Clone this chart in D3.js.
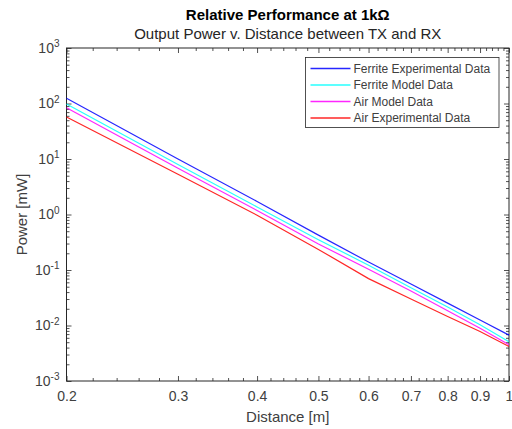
<!DOCTYPE html>
<html>
<head>
<meta charset="utf-8">
<script src="https://cdn.jsdelivr.net/npm/d3@7"></script>
<style>
  html, body { margin: 0; padding: 0; background: #fff; }
  svg { display: block; font-family: "Liberation Sans", Arial, Helvetica, sans-serif; }
</style>
</head>
<body>
<svg id="chart" width="512" height="429"></svg>
<script>
// Distances [m] at which power was measured / modelled
const distances = [0.2, 0.3, 0.4, 0.5, 0.6, 0.7, 0.8, 0.9, 1.0];

// Output power [mW] per series
const ferriteExperimental = [124, 10.0, 1.72, 0.425, 0.139, 0.056, 0.0253, 0.0126, 0.0067];
const ferriteModel        = [98, 7.95, 1.37, 0.352, 0.122, 0.048, 0.0215, 0.0103, 0.0051];
const airModel            = [84, 6.8, 1.18, 0.295, 0.103, 0.042, 0.0185, 0.0089, 0.0045];
const airExperimental     = [57, 5.3, 0.97, 0.235, 0.070, 0.030, 0.0145, 0.0078, 0.0042];

const seriesNames  = ["Ferrite Experimental Data", "Ferrite Model Data", "Air Model Data", "Air Experimental Data"];
const seriesColors = ["#0000ff", "#00ffff", "#ff00ff", "#ff0000"];
const seriesValues = [ferriteExperimental, ferriteModel, airModel, airExperimental];

// Tick labels
const xMajorTicks = [0.2, 0.3, 0.4, 0.5, 0.6, 0.7, 0.8, 0.9, 1];
const yExponents  = [-3, -2, -1, 0, 1, 2, 3];

const titleText    = "Relative Performance at 1k\u03A9";
const subtitleText = "Output Power v. Distance between TX and RX";
const xLabelText   = "Distance [m]";
const yLabelText   = "Power [mW]";

const svg = d3.select("#chart");
const axisColor = "#262626";
const textColor = "#404040";

const plot = { left: 66.5, right: 509, top: 48, bottom: 381 };

const x = d3.scaleLog().domain([0.2, 1]).range([plot.left, plot.right]);
const y = d3.scaleLog().domain([1e-3, 1e3]).range([plot.bottom, plot.top]);

// minor ticks: every 0.02 on x, 2..9 per decade on y
const xMinorTicks = d3.range(20, 101, 2).map(v => v / 100).filter(v => !xMajorTicks.some(m => Math.abs(m - v) < 1e-9));
const yMinorTicks = [];
for (let e = -3; e < 3; e++) for (let m = 2; m <= 9; m++) yMinorTicks.push(m * Math.pow(10, e));

const majorLen = 5, minorLen = 3;

function styleAxis(g) {
  g.select(".domain").remove();
  g.selectAll(".tick line").attr("stroke", axisColor).attr("stroke-width", 0.8);
  g.selectAll(".tick text").attr("fill", textColor).attr("font-size", 14);
}

// bottom axis
svg.append("g").attr("transform", `translate(0,${plot.bottom})`)
  .call(d3.axisBottom(x).tickValues(xMajorTicks).tickSizeInner(-majorLen).tickSizeOuter(0).tickPadding(10)
    .tickFormat(d => d === 1 ? "1" : d3.format(".1f")(d)))
  .call(styleAxis);
svg.append("g").attr("transform", `translate(0,${plot.bottom})`)
  .call(d3.axisBottom(x).tickValues(xMinorTicks).tickSizeInner(-minorLen).tickSizeOuter(0).tickFormat(""))
  .call(styleAxis);
// top axis (mirrored ticks)
svg.append("g").attr("transform", `translate(0,${plot.top})`)
  .call(d3.axisTop(x).tickValues(xMajorTicks).tickSizeInner(-majorLen).tickSizeOuter(0).tickFormat(""))
  .call(styleAxis);
svg.append("g").attr("transform", `translate(0,${plot.top})`)
  .call(d3.axisTop(x).tickValues(xMinorTicks).tickSizeInner(-minorLen).tickSizeOuter(0).tickFormat(""))
  .call(styleAxis);

// left axis with power-of-ten labels
const yLeft = svg.append("g").attr("transform", `translate(${plot.left},0)`)
  .call(d3.axisLeft(y).tickValues(yExponents.map(e => Math.pow(10, e))).tickSizeInner(-majorLen).tickSizeOuter(0).tickPadding(7)
    .tickFormat(""))
  .call(styleAxis);
yLeft.selectAll(".tick").each(function(d) {
  const e = Math.round(Math.log10(d));
  const t = d3.select(this).select("text").attr("dy", "0.32em");
  t.text(null);
  t.append("tspan").text("10");
  t.append("tspan").attr("font-size", 10).attr("dy", "-0.55em").text(String(e));
});
svg.append("g").attr("transform", `translate(${plot.left},0)`)
  .call(d3.axisLeft(y).tickValues(yMinorTicks).tickSizeInner(-minorLen).tickSizeOuter(0).tickFormat(""))
  .call(styleAxis);
// right axis (mirrored ticks)
svg.append("g").attr("transform", `translate(${plot.right},0)`)
  .call(d3.axisRight(y).tickValues(yExponents.map(e => Math.pow(10, e))).tickSizeInner(-majorLen).tickSizeOuter(0).tickFormat(""))
  .call(styleAxis);
svg.append("g").attr("transform", `translate(${plot.right},0)`)
  .call(d3.axisRight(y).tickValues(yMinorTicks).tickSizeInner(-minorLen).tickSizeOuter(0).tickFormat(""))
  .call(styleAxis);

// box
svg.append("rect")
  .attr("x", plot.left).attr("y", plot.top)
  .attr("width", plot.right - plot.left).attr("height", plot.bottom - plot.top)
  .attr("fill", "none").attr("stroke", axisColor).attr("stroke-width", 1);

// data lines
const line = d3.line().x(d => x(d[0])).y(d => y(d[1]));
seriesValues.forEach((vals, i) => {
  svg.append("path")
    .datum(distances.map((d, j) => [d, vals[j]]))
    .attr("d", line)
    .attr("fill", "none")
    .attr("stroke", seriesColors[i])
    .attr("stroke-width", 1.2)
    .attr("stroke-opacity", 0.85);
});

// legend
const legend = { x: 305.5, y: 57.5, w: 193.5, h: 70, row: 16.5 };
svg.append("rect")
  .attr("x", legend.x).attr("y", legend.y).attr("width", legend.w).attr("height", legend.h)
  .attr("fill", "#fff").attr("stroke", axisColor).attr("stroke-width", 0.8);
seriesNames.forEach((name, i) => {
  const cy = legend.y + 11 + i * legend.row;
  svg.append("line")
    .attr("x1", legend.x + 5).attr("x2", legend.x + 45)
    .attr("y1", cy).attr("y2", cy)
    .attr("stroke", seriesColors[i]).attr("stroke-width", 1.6).attr("stroke-opacity", 0.85);
  svg.append("text")
    .attr("x", legend.x + 48).attr("y", cy).attr("dy", "0.35em")
    .attr("font-size", 12).attr("fill", textColor).text(name);
});

// titles
const cx = (plot.left + plot.right) / 2;
svg.append("text").attr("x", cx).attr("y", 19.5).attr("text-anchor", "middle")
  .attr("font-size", 15).attr("font-weight", "bold").attr("fill", "#000").text(titleText);
svg.append("text").attr("x", cx).attr("y", 39).attr("text-anchor", "middle")
  .attr("font-size", 15).attr("fill", "#262626").text(subtitleText);

// axis labels
svg.append("text").attr("x", cx).attr("y", 422).attr("text-anchor", "middle")
  .attr("font-size", 15).attr("fill", textColor).text(xLabelText);
svg.append("text").attr("transform", `translate(27,${(plot.top + plot.bottom) / 2}) rotate(-90)`)
  .attr("text-anchor", "middle").attr("font-size", 15).attr("fill", textColor).text(yLabelText);
</script>
</body>
</html>
